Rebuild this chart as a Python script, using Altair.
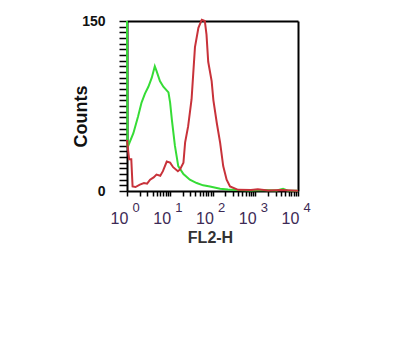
import altair as alt
import pandas as pd

# Green histogram (control) - FL2-H channel value, counts
green_x = [1, 1.023, 1.07, 1.41, 1.82, 2.19, 2.63, 3.16, 3.80, 4.47, 4.90, 5.89, 7.08, 9.33,
           10.2, 11.2, 13.2, 15.8, 20.9, 29.5, 42.7, 60.3, 87.1, 151, 229, 398, 794, 1585,
           3162, 4467, 5623, 10000]
green_y = [150, 40, 40, 51, 66, 78, 86, 92, 100, 110, 106, 97, 92, 87,
           78, 63, 40, 22, 15, 10, 7, 5, 4, 2, 1.3, 0.8, 0.5, 0.8,
           0.4, 2, 0.5, 0.3]

# Red histogram (stained)
red_x = [1, 1.12, 1.26, 1.35, 1.58, 2.0, 2.5, 2.95, 3.47, 4.2, 4.90, 6.0, 6.92, 8.51,
         10.2, 12.0, 15.5, 17.4, 20.9, 22.9, 26.9, 32.4, 35.5, 38.9, 46.8, 56.2, 66.1,
         72.4, 79.4, 95.5, 105, 126, 151, 178, 214, 257, 398, 794, 1148, 1995, 3981, 10000]
red_y = [45, 28, 28, 4, 3.5, 5.7, 7, 6.5, 10, 12, 14.5, 13.5, 17.5, 26,
         25, 21, 17.5, 19, 25, 43, 57, 81, 104, 127, 144, 151, 150,
         138, 114, 97, 80, 60, 42.5, 22, 10, 4, 1, 0.8, 1.5, 0.5, 0.8, 0.3]

x_ticks = [1, 2, 3, 4, 5, 6, 7, 8, 9,
           10, 20, 30, 40, 50, 60, 70, 80, 90,
           100, 200, 300, 400, 500, 600, 700, 800, 900,
           1000, 2000, 3000, 4000, 5000, 6000, 7000, 8000, 9000, 10000]
y_ticks = list(range(0, 151, 5))
decades = [1, 10, 100, 1000, 10000]
exponents = ["0", "1", "2", "3", "4"]

green_df = pd.DataFrame({"x": green_x, "y": green_y})
red_df = pd.DataFrame({"x": red_x, "y": red_y})
exp_df = pd.DataFrame({"x": decades, "e": exponents})

W, H = 171, 170
FONT = "Liberation Sans"
LABEL_COLOR = "#3d2a55"

xscale = alt.Scale(type="log", domain=[1, 10000])
yscale = alt.Scale(domain=[0, 150])

green = alt.Chart(green_df).mark_line(strokeWidth=2, clip=False, color="#36dc36").encode(
    x=alt.X("x:Q", scale=xscale, axis=alt.Axis(
        orient="bottom", values=x_ticks, zindex=0,
        labelExpr="abs(log(datum.value)/LN10 - round(log(datum.value)/LN10)) < 0.001 ? '10' : ''",
        tickSize=5, labelPadding=27, labelBaseline="alphabetic", labelOffset=-8,
        labelFont=FONT, labelFontSize=16, labelColor=LABEL_COLOR,
        labelFlush=False, labelOverlap=False,
        title="FL2-H", titleX=83, titleY=51, titleBaseline="alphabetic",
        titleFont=FONT, titleFontSize=16, titleFontWeight="bold",
        titleColor="#333333", grid=False)),
    y=alt.Y("y:Q", scale=yscale, axis=alt.Axis(
        orient="left", values=y_ticks, zindex=0,
        labelExpr="datum.value == 0 || datum.value == 150 ? datum.label : ''",
        tickSize=8, labelPadding=14, labelFont=FONT, labelFontSize=14,
        labelFontWeight="bold", labelColor="#111111", labelOverlap=False,
        title="Counts", titleX=-46, titleY=95, titleAngle=-90,
        titleAlign="center", titleBaseline="middle",
        titleFont=FONT, titleFontSize=18, titleFontWeight="bold",
        titleColor="#111111", grid=False)),
)

red = alt.Chart(red_df).mark_line(strokeWidth=2, clip=False, color="#c8323a").encode(
    x=alt.X("x:Q", scale=xscale, axis=alt.Axis(
        orient="top", ticks=False, labels=False, title=None, grid=False, zindex=0)),
    y=alt.Y("y:Q", scale=yscale, axis=alt.Axis(
        orient="right", ticks=False, labels=False, title=None, grid=False, zindex=0)),
)

exps = alt.Chart(exp_df).mark_text(
    fontSize=13, font=FONT, color=LABEL_COLOR,
    baseline="alphabetic", align="center", dx=9,
).encode(
    x=alt.X("x:Q", scale=xscale, axis=None),
    y=alt.value(H + 21),
    text="e:N",
)

chart = alt.layer(green, red, exps).resolve_axis(
    x="independent", y="independent"
).properties(
    width=W, height=H,
    autosize=alt.AutoSizeParams(type="none"),
    padding={"left": 127, "top": 21, "right": 102, "bottom": 151},
    background="white",
).configure_view(
    stroke=None,
).configure_axis(
    domainColor="black", domainWidth=2, tickColor="black", tickWidth=1.5,
)

chart.save("out.html", embed_options={"renderer": "svg", "actions": False})
